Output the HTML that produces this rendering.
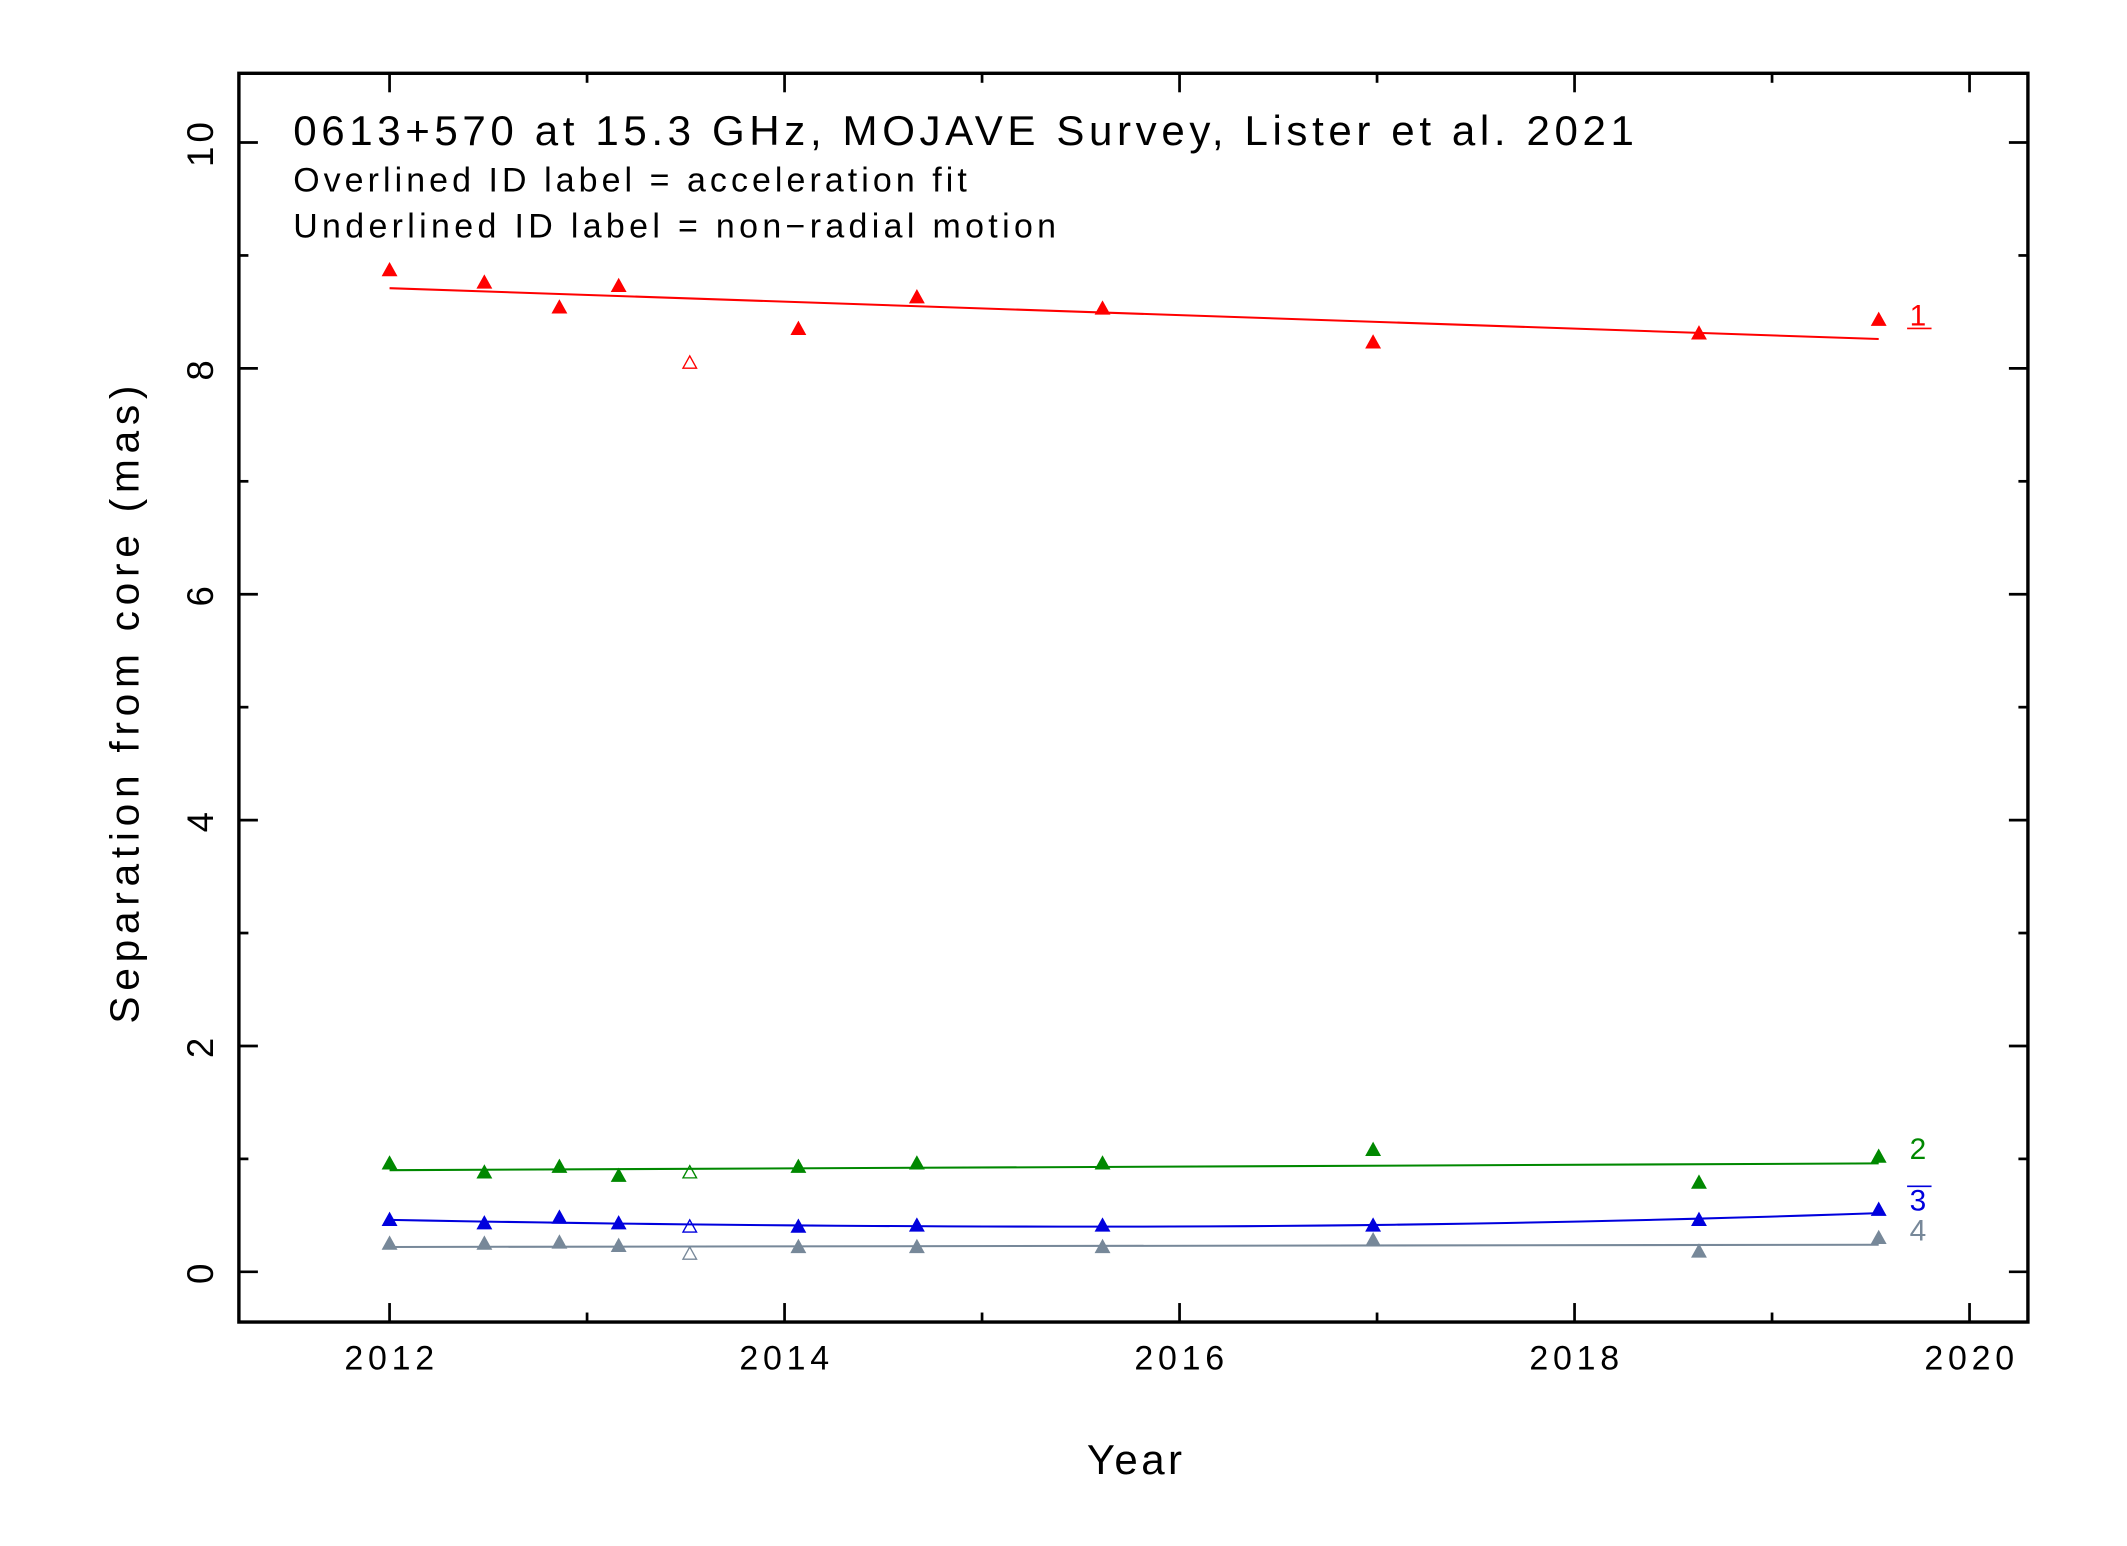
<!DOCTYPE html>
<html><head><meta charset="utf-8"><style>
html,body{margin:0;padding:0;background:#fff;}
svg{display:block;}
text{font-family:"Liberation Sans",sans-serif;}
</style></head><body>
<svg id="chart" width="2127" height="1546" viewBox="0 0 1567 1139" preserveAspectRatio="none" xmlns="http://www.w3.org/2000/svg">
<rect x="0" y="0" width="1567" height="1139" fill="#fff"/>
<g id="marks"></g>
<rect x="176" y="54" width="1318" height="920" fill="none" stroke="#000" stroke-width="2.5"/>
<g id="axes"></g>
<text x="216" y="107" font-size="31" letter-spacing="3.4">0613+570 at 15.3 GHz, MOJAVE Survey, Lister et al. 2021</text>
<text x="216" y="141" font-size="25" letter-spacing="3">Overlined ID label = acceleration fit</text>
<text x="216" y="175" font-size="25" letter-spacing="3.2">Underlined ID label = non−radial motion</text>
<text x="837" y="1086" font-size="31" text-anchor="middle" letter-spacing="2.5">Year</text>
<text transform="translate(102,517) rotate(-90)" font-size="30" text-anchor="middle" letter-spacing="4.2">Separation from core (mas)</text>
</svg>
<script>
const years = [2012.0, 2012.48, 2012.86, 2013.16, 2013.52, 2014.07, 2014.67, 2015.61, 2016.98, 2018.63, 2019.54];
const open = [false,false,false,false,true,false,false,false,false,false,false];
const sep1 = [8.87, 8.76, 8.54, 8.73, 8.05, 8.35, 8.63, 8.53, 8.23, 8.31, 8.43];
const sep2 = [0.96, 0.88, 0.93, 0.85, 0.88, 0.93, 0.96, 0.96, 1.08, 0.79, 1.02];
const sep3 = [0.46, 0.43, 0.48, 0.43, 0.40, 0.40, 0.41, 0.41, 0.41, 0.46, 0.55];
const sep4 = [0.25, 0.25, 0.26, 0.23, 0.16, 0.22, 0.22, 0.22, 0.28, 0.18, 0.30];
const fit1 = [8.71, 8.26];
const fit2 = [0.90, 0.96];
const fit3 = [0.46, 0.40, 0.52];
const fit4 = [0.22, 0.24];
const xTicks = [2012, 2014, 2016, 2018, 2020];
const yTicks = [0, 2, 4, 6, 8, 10];

const NS = 'http://www.w3.org/2000/svg';
const X = y => 287 + (y - 2012) * 145.5;
const Y = v => 937 - v * 83.2;
function mk(tag, attrs, parent){const e=document.createElementNS(NS,tag);for(const k in attrs)e.setAttribute(k,attrs[k]);parent.appendChild(e);return e;}
const marks = document.getElementById('marks');
const axes = document.getElementById('axes');

const comps = [
  {vals:sep1, fit:fit1, color:'#ff0000', label:'1', ly:240, deco:'under'},
  {vals:sep2, fit:fit2, color:'#008800', label:'2', ly:854, deco:''},
  {vals:sep3, fit:fit3, color:'#0000dd', label:'3', ly:892, deco:'over'},
  {vals:sep4, fit:fit4, color:'#778899', label:'4', ly:914, deco:''}
];
comps.forEach((c, ci) => {
  const x0 = years[0], x1 = years[years.length-1];
  let pts = [];
  if (c.fit.length === 2) {
    pts = [[X(x0), Y(c.fit[0])], [X(x1), Y(c.fit[1])]];
  } else {
    const xm = 2015.6;
    for (let i = 0; i <= 40; i++) {
      const t = x0 + (x1 - x0) * i / 40;
      let v;
      if (t <= xm) { const f = (t - xm) / (x0 - xm); v = c.fit[1] + (c.fit[0] - c.fit[1]) * f * f; }
      else { const f = (t - xm) / (x1 - xm); v = c.fit[1] + (c.fit[2] - c.fit[1]) * f * f; }
      pts.push([X(t), Y(v)]);
    }
  }
  const line = mk('polyline', {points: pts.map(p => p.join(',')).join(' '), fill:'none', stroke:c.color, 'stroke-width':1.5}, marks);
  
  
  c.vals.forEach((v, i) => {
    const cx = X(years[i]), cy = Y(v);
    const tri = mk('polygon', {points: `${cx},${cy-5} ${cx-5},${cy+4} ${cx+5},${cy+4}`, fill: open[i] ? 'none' : c.color, stroke: c.color, 'stroke-width': 1}, marks);
    
    
  });
  const t = mk('text', {x:1413, y:c.ly, 'font-size':22, fill:c.color, 'text-anchor':'middle'}, marks);
  t.textContent = c.label;
  
  
  if (c.deco === 'under') mk('line', {x1:1405, x2:1423, y1:c.ly+2, y2:c.ly+2, stroke:c.color, 'stroke-width':1.2}, marks);
  if (c.deco === 'over') mk('line', {x1:1405, x2:1423, y1:c.ly-18, y2:c.ly-18, stroke:c.color, 'stroke-width':1.2}, marks);
});

for (let yr = 2011; yr <= 2021; yr += 1) {
  const x = X(yr);
  if (x < 176 || x > 1494) continue;
  const len = yr % 2 === 0 ? 14 : 7;
  mk('line', {x1:x, x2:x, y1:974, y2:974-len, stroke:'#000', 'stroke-width':2}, axes);
  mk('line', {x1:x, x2:x, y1:54, y2:54+len, stroke:'#000', 'stroke-width':2}, axes);
}
xTicks.forEach(v => {
  const t = mk('text', {x:X(v)+1.5, y:1009, 'font-size':25, 'text-anchor':'middle', 'letter-spacing':3.5}, axes);
  t.textContent = v;
  
  
});
for (let v = 0; v <= 10; v++) {
  const y = Y(v);
  const len = v % 2 === 0 ? 14 : 7;
  mk('line', {x1:176, x2:176+len, y1:y, y2:y, stroke:'#000', 'stroke-width':2}, axes);
  mk('line', {x1:1494, x2:1494-len, y1:y, y2:y, stroke:'#000', 'stroke-width':2}, axes);
}
yTicks.forEach(v => {
  const t = mk('text', {transform:`translate(157,${Y(v)}) rotate(-90)`, 'font-size':27, 'text-anchor':'middle', 'letter-spacing':3}, axes);
  t.textContent = v;
  
  
});
</script>
</body></html>
